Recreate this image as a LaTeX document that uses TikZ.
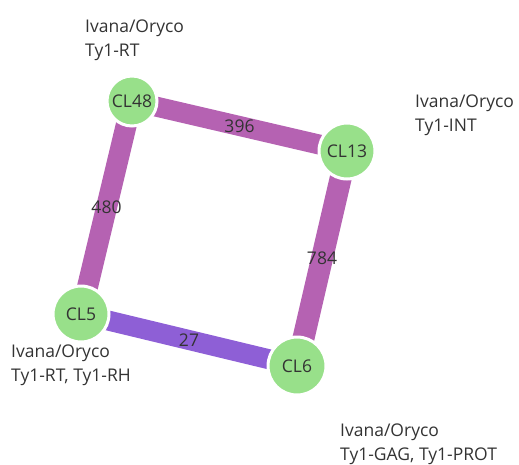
\documentclass[tikz,border=0pt]{standalone}
\usepackage{fontspec}
\setmainfont{Open Sans}
\definecolor{edgemag}{HTML}{B562B2}
\definecolor{edgeblue}{HTML}{8E5FD6}
\definecolor{nodegreen}{HTML}{98E08A}
\definecolor{txt}{HTML}{333333}
\tikzset{
  cl/.style={circle, fill=nodegreen, draw=white, line width=3pt, inner sep=0pt, text=txt, font=\fontsize{17.5}{17.5}\selectfont},
  elabel/.style={text=txt, font=\fontsize{17.5}{17.5}\selectfont, inner sep=0pt},
  info/.style={text=txt, font=\fontsize{17.5}{17.5}\selectfont, anchor=base west, inner sep=0pt},
}
\begin{document}
\begin{tikzpicture}[x=1pt,y=-1pt]
\useasboundingbox (0,0) rectangle (519,464);
\coordinate (p48) at (132,101);
\coordinate (p13) at (347,151);
\coordinate (p5) at (81,314);
\coordinate (p6) at (297,366);
\draw[edgemag, line width=20pt] (p48) -- node[elabel]{396} (p13);
\draw[edgemag, line width=21pt] (p48) -- node[elabel]{480} (p5);
\draw[edgemag, line width=22pt] (p13) -- node[elabel]{784} (p6);
\draw[edgeblue, line width=20pt] (p5) -- node[elabel]{27} (p6);
\node[cl, minimum size=50pt] (CL48) at (p48) {CL48};
\node[cl, minimum size=56pt] (CL13) at (p13) {CL13};
\node[cl, minimum size=56pt] (CL5) at (p5) {CL5};
\node[cl, minimum size=58pt] (CL6) at (p6) {CL6};
\node[info] (i48a) at (85,32) {Ivana/Oryco};
\node[info] (i48b) at (85,56) {Ty1-RT};
\node[info] (i13a) at (415,107) {Ivana/Oryco};
\node[info] (i13b) at (415,131) {Ty1-INT};
\node[info] (i5a) at (11,357) {Ivana/Oryco};
\node[info] (i5b) at (11,381) {Ty1-RT, Ty1-RH};
\node[info] (i6a) at (340,436) {Ivana/Oryco};
\node[info] (i6b) at (340,460) {Ty1-GAG, Ty1-PROT};
\end{tikzpicture}
\end{document}
